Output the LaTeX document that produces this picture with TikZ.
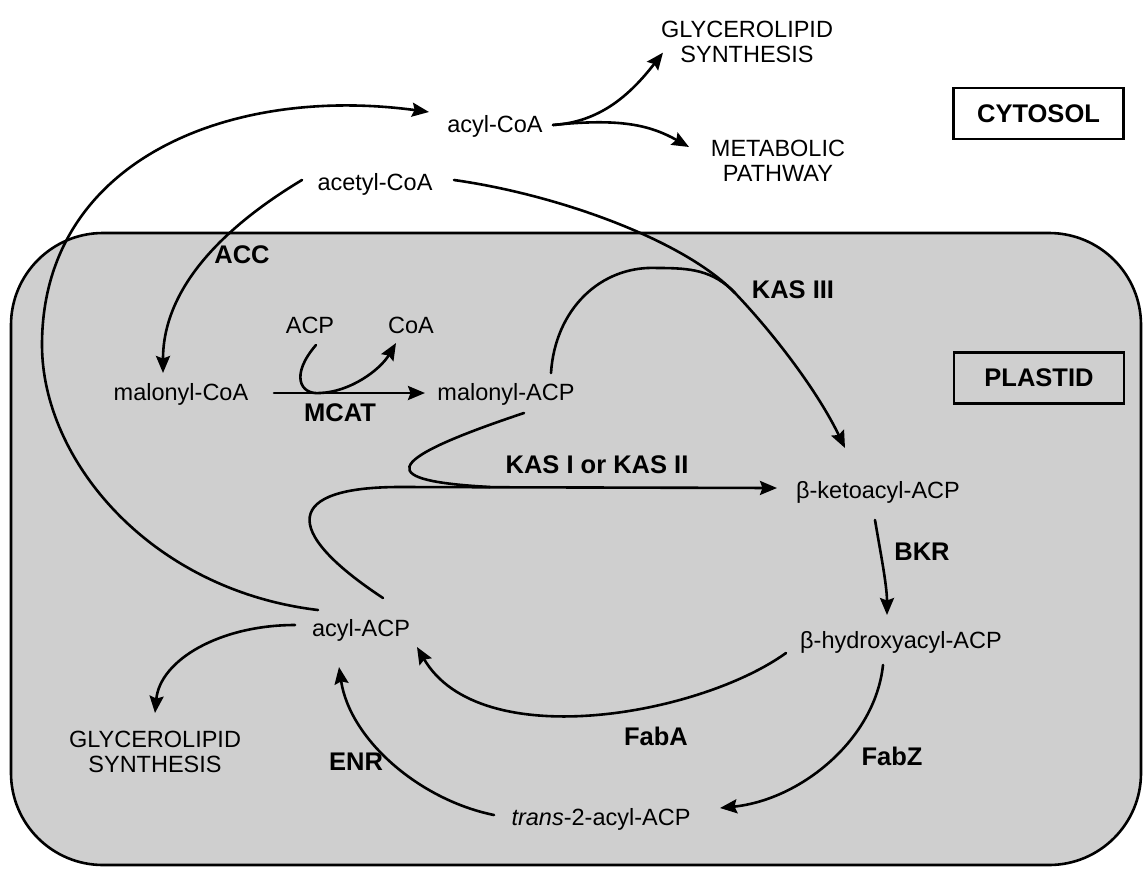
\documentclass[tikz,border=0pt]{standalone}
\usepackage{fontspec}
\setmainfont{Liberation Sans}
\usetikzlibrary{arrows.meta}
\tikzset{
  conn/.style={line width=2.6pt, line cap=round},
  arr/.style={conn, -{Stealth[length=17pt,width=14pt,inset=2.5pt]}},
  txt/.style={inner sep=0pt, font=\fontsize{23.5}{25}\selectfont},
  multi/.style={txt, align=center},
  enz/.style={inner sep=0pt, font=\fontsize{25.5}{27}\selectfont\bfseries},
  compbox/.style={draw, line width=2.4pt, minimum width=170pt, minimum height=51pt, inner sep=0pt, font=\fontsize{25.5}{27}\selectfont\bfseries},
  plastidfill/.style={draw, line width=2.6pt, fill=black!19, rounded corners=92pt}
}
\begin{document}
\begin{tikzpicture}[x=1pt,y=-1pt]
\useasboundingbox (0,0) rectangle (1143,868);
% plastid compartment
\draw[plastidfill] (11,233) rectangle (1141,865);

% compartment labels
\node[compbox, fill=white] (cytosol) at (1038.5,113.5) {CYTOSOL};
\node[compbox] (plastid) at (1039,378) {PLASTID};

% metabolites
\node[multi] (glyTop) at (747,41.6) {GLYCEROLIPID\\SYNTHESIS};
\node[multi] (metab) at (778,161) {METABOLIC\\PATHWAY};
\node[txt, anchor=base] (acylCoA) at (495,132) {acyl-CoA};
\node[txt, anchor=base] (acetylCoA) at (375,190) {acetyl-CoA};
\node[txt, anchor=base] (ACP) at (310,333) {ACP};
\node[txt, anchor=base] (CoA) at (411,333) {CoA};
\node[txt, anchor=base] (malonylCoA) at (181,400) {malonyl-CoA};
\node[txt, anchor=base] (malonylACP) at (506,400) {malonyl-ACP};
\node[txt, anchor=base] (betaKeto) at (878,498) {β-ketoacyl-ACP};
\node[txt, anchor=base] (betaHydroxy) at (901,648) {β-hydroxyacyl-ACP};
\node[txt, anchor=base] (acylACP) at (361,636) {acyl-ACP};
\node[multi] (glyBot) at (155,752) {GLYCEROLIPID\\SYNTHESIS};
\node[txt, anchor=base] (trans) at (601,825) {\textit{trans}-2-acyl-ACP};

% enzymes
\node[enz, anchor=base] (ACC) at (242,263) {ACC};
\node[enz, anchor=base] (KASIII) at (793,298) {KAS III};
\node[enz, anchor=base] (MCAT) at (340,421) {MCAT};
\node[enz, anchor=base] (KASI) at (597,473) {KAS I or KAS II};
\node[enz, anchor=base] (BKR) at (922,560) {BKR};
\node[enz, anchor=base] (FabA) at (656,745) {FabA};
\node[enz, anchor=base] (FabZ) at (892,765) {FabZ};
\node[enz, anchor=base] (ENR) at (356,770) {ENR};

% acyl-ACP -> acyl-CoA (export)
\draw[arr] ([shift={(-43,-26)}]acylACP.base) .. controls (150,590) and (42,460) .. (42,345)
           .. controls (42,160) and (230,85) .. ([shift={(-66,-20)}]acylCoA.base);

% acyl-CoA branches
\draw[arr] ([shift={(58,-7)}]acylCoA.base) .. controls (600,122) and (630,95) .. ([shift={(-84,11)}]glyTop.center);
\draw[arr] ([shift={(58,-7)}]acylCoA.base) .. controls (620,118) and (650,125) .. ([shift={(-89,-14)}]metab.center);

% KAS III: acetyl-CoA + malonyl-ACP -> beta-ketoacyl-ACP
\coordinate (m3) at (735,293);
\draw[conn] ([shift={(79,-10)}]acetylCoA.base) .. controls (560,195) and (685,241) .. (m3);
\draw[conn] ([shift={(45,-27)}]malonylACP.base) .. controls (555,310) and (600,265) .. (658,268)
            .. controls (690,268) and (713,270) .. (m3);
\draw[arr] (m3) .. controls (775,335) and (818,392) .. ([shift={(-33,-50)}]betaKeto.base);

% ACC
\draw[arr] ([shift={(-73,-10)}]acetylCoA.base) .. controls (232,222) and (163,283) .. ([shift={(-18,-27)}]malonylCoA.base);

% MCAT
\draw[arr] ([shift={(6,12)}]ACP.base) .. controls (290,375) and (300,395) .. (320,393)
           .. controls (350,392) and (380,370) .. ([shift={(-15,10)}]CoA.base);
\draw[arr] ([shift={(93,-7)}]malonylCoA.base) -- ([shift={(-81,-7)}]malonylACP.base);

% KAS I / KAS II
\coordinate (kj) at (490,487);
\draw[conn] ([shift={(18,13)}]malonylACP.base) .. controls (374,463) and (380,481) .. (kj);
\draw[arr] ([shift={(22,-38)}]acylACP.base) .. controls (280,530) and (285,487) .. (400,487)
           -- ([shift={(-101,-10)}]betaKeto.base);

% BKR
\draw[arr] ([shift={(-3,22)}]betaKeto.base) .. controls (880,550) and (887,585) .. ([shift={(-14,-33)}]betaHydroxy.base);

% FabA
\draw[arr] ([shift={(-115,5)}]betaHydroxy.base) .. controls (700,715) and (480,755) .. ([shift={(56,11)}]acylACP.base);

% FabZ
\draw[arr] ([shift={(-18,17)}]betaHydroxy.base) .. controls (875,740) and (800,800) .. ([shift={(119,-17)}]trans.base);

% ENR
\draw[arr] ([shift={(-107,-10)}]trans.base) .. controls (420,800) and (350,740) .. ([shift={(-22,31)}]acylACP.base);

% acyl-ACP -> glycerolipid synthesis
\draw[arr] ([shift={(-66,-11)}]acylACP.base) .. controls (220,625) and (160,660) .. ([shift={(0,-39)}]glyBot.center);
\end{tikzpicture}
\end{document}
